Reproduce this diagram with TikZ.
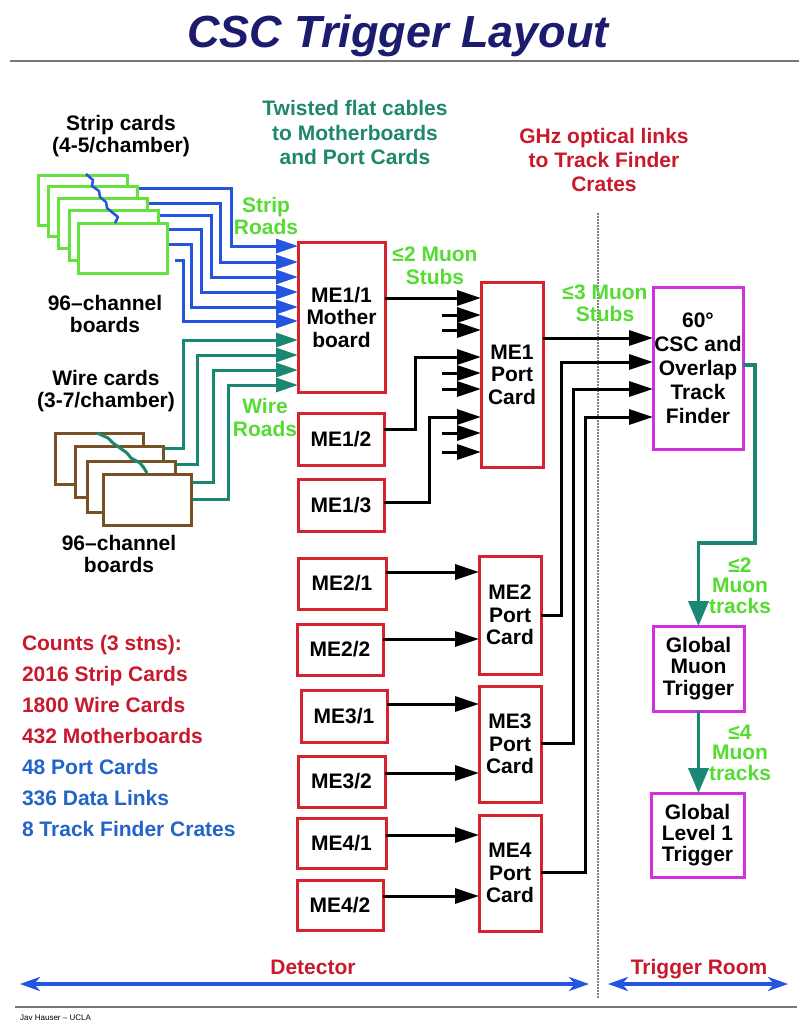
\documentclass[tikz,border=0pt]{standalone}
\usepackage{fontspec}
\setmainfont{Liberation Sans}
\usetikzlibrary{arrows.meta}
\definecolor{stripgreen}{RGB}{100,225,60}
\definecolor{cableblue}{RGB}{35,85,225}
\definecolor{wireteal}{RGB}{25,135,115}
\definecolor{cardbrown}{RGB}{120,82,38}
\definecolor{boxred}{RGB}{215,35,45}
\definecolor{boxmag}{RGB}{210,50,220}
\definecolor{lblgreen}{RGB}{85,220,50}
\definecolor{txtred}{RGB}{200,25,45}
\definecolor{txtblue}{RGB}{35,100,200}
\definecolor{titlenavy}{RGB}{28,28,110}
\definecolor{txtteal}{RGB}{30,135,110}
\definecolor{rulegray}{RGB}{120,120,120}
\begin{document}
\begin{tikzpicture}[x=1pt,y=-1pt,
 base/.style={font=\bfseries\fontsize{21}{22.5}\selectfont, inner sep=0pt, outer sep=0pt, align=center},
 redbox/.style={base, draw=boxred, line width=3pt, fill=white},
 magbox/.style={base, draw=boxmag, line width=3pt, fill=white},
 scard/.style={draw=stripgreen, line width=3pt, fill=white, minimum width=89pt, minimum height=50pt, inner sep=0pt},
 wcard/.style={draw=cardbrown, line width=3pt, fill=white, minimum width=88pt, minimum height=51pt, inner sep=0pt},
 bcable/.style={cableblue, line width=3pt, -{Triangle[length=22pt,width=14pt]}},
 wcable/.style={wireteal, line width=3pt, -{Triangle[length=22pt,width=14pt]}},
 blk/.style={black, line width=3pt, -{Triangle[length=24pt,width=15pt]}},
 tealarrow/.style={wireteal, line width=3.5pt, -{Triangle[length=25pt,width=20pt]}},
 spanarrow/.style={cableblue, line width=3.5pt, {Stealth[length=20pt,width=14pt,inset=6pt]}-{Stealth[length=20pt,width=14pt,inset=6pt]}},
 lbl/.style={base, text=lblgreen}
]
\fill[white] (0,0) rectangle (799,1020);
\useasboundingbox (0,0) rectangle (799,1020);

% title and rules
\node[base, font=\bfseries\itshape\fontsize{45}{46}\selectfont, text=titlenavy, anchor=base] (title) at (398,47) {CSC Trigger Layout};
\draw[rulegray, line width=2pt] (10,61) -- (799,61);
\draw[rulegray, line width=2pt] (15,1007) -- (797,1007);
\node[font=\fontsize{8}{8}\selectfont, inner sep=0pt, anchor=base west] (foot) at (20,1020) {Jay Hauser -- UCLA};

% dotted boundary
\draw[gray, line width=1.5pt, dash pattern=on 1.5pt off 1.5pt] (598,213) -- (598,998);

% strip cards
\node[scard] (sc1) at (82.5,200) {};
\node[scard] (sc2) at (92.5,211.5) {};
\node[scard] (sc3) at (103,223.5) {};
\node[scard] (sc4) at (113.5,235.5) {};
\node[scard] (sc5) at (123,248.5) {};
\draw[cableblue, line width=2.5pt, line join=round] (86,174) -- (93,180) -- (92,186) -- (99,191) -- (100,197) -- (106,202) -- (107,208) -- (113,213) -- (118,217) -- (115,223);

% wire cards
\node[wcard] (wc1) at (99,459) {};
\node[wcard] (wc2) at (119,472) {};
\node[wcard] (wc3) at (131,487) {};
\node[wcard] (wc4) at (147.5,499.5) {};
\draw[wireteal, line width=3pt, line join=round] (97,433) -- (108,438) -- (113,443) -- (120,448) -- (127,453) -- (131,458) -- (140,463) -- (144,468) -- (147,473);

% labels left
\node[base] (stripl) at (121,136) {Strip cards\\(4-5/chamber)};
\node[base] (stripb) at (105,314) {96--channel\\boards};
\node[base] (wirel) at (106,391) {Wire cards\\(3-7/chamber)};
\node[base] (wireb) at (119,554) {96--channel\\boards};
\node[base, text=txtteal, font=\bfseries\fontsize{21}{24.5}\selectfont] (twist) at (355,132.5) {Twisted flat cables\\to Motherboards\\and Port Cards};
\node[base, text=txtred, font=\bfseries\fontsize{21}{24}\selectfont] (ghz) at (604,160) {GHz optical links\\to Track Finder\\Crates};
\node[lbl] (sroads) at (266,216) {Strip\\Roads};
\node[lbl] (wroads) at (265,417.5) {Wire\\Roads};
\node[lbl] (stub2) at (435,266) {≤2 Muon\\Stubs};
\node[lbl] (stub3) at (605,303.5) {≤3 Muon\\Stubs};
\node[lbl, font=\bfseries\fontsize{21}{20.5}\selectfont] (trk2) at (740,585.5) {≤2\\Muon\\tracks};
\node[lbl, font=\bfseries\fontsize{21}{20.5}\selectfont] (trk4) at (740,752.5) {≤4\\Muon\\tracks};

\node[base, align=left, anchor=west, font=\bfseries\fontsize{21}{31}\selectfont] (counts) at (22,735.5) {%
\textcolor{txtred}{Counts (3 stns):}\\
\textcolor{txtred}{2016 Strip Cards}\\
\textcolor{txtred}{1800 Wire Cards}\\
\textcolor{txtred}{432 Motherboards}\\
\textcolor{txtblue}{48 Port Cards}\\
\textcolor{txtblue}{336 Data Links}\\
\textcolor{txtblue}{8 Track Finder Crates}};

% boxes
\node[redbox, minimum width=87pt, minimum height=150pt] (me11) at (341.5,317) {ME1/1\\Mother\\board};
\node[redbox, minimum width=86pt, minimum height=52pt] (me12) at (341,439) {ME1/2};
\node[redbox, minimum width=86pt, minimum height=52pt] (me13) at (341,505) {ME1/3};
\node[redbox, minimum width=62pt, minimum height=185pt] (pc1) at (512,374.5) {ME1\\Port\\Card};
\node[redbox, minimum width=88pt, minimum height=51pt] (me21) at (342,583.5) {ME2/1};
\node[redbox, minimum width=86pt, minimum height=51pt] (me22) at (340,649.5) {ME2/2};
\node[redbox, minimum width=86pt, minimum height=52pt] (me31) at (344,716) {ME3/1};
\node[redbox, minimum width=87pt, minimum height=51pt] (me32) at (341.5,781.5) {ME3/2};
\node[redbox, minimum width=89pt, minimum height=50pt] (me41) at (341.5,843) {ME4/1};
\node[redbox, minimum width=86pt, minimum height=50pt] (me42) at (340,905) {ME4/2};
\node[redbox, minimum width=62pt, minimum height=118pt] (pc2) at (510,615) {ME2\\Port\\Card};
\node[redbox, minimum width=62pt, minimum height=116pt] (pc3) at (510,744) {ME3\\Port\\Card};
\node[redbox, minimum width=62pt, minimum height=116pt] (pc4) at (510,873) {ME4\\Port\\Card};
\node[magbox, minimum width=90pt, minimum height=162pt, font=\bfseries\fontsize{21}{24}\selectfont] (tf) at (698,368) {60°\\CSC and\\Overlap\\Track\\Finder};
\node[magbox, minimum width=91pt, minimum height=85pt, font=\bfseries\fontsize{21}{21.5}\selectfont] (gmt) at (698.5,668.5) {Global\\Muon\\Trigger};
\node[magbox, minimum width=93pt, minimum height=84pt, font=\bfseries\fontsize{21}{21}\selectfont] (gl1) at (697.5,835) {Global\\Level 1\\Trigger};

% strip cables
\draw[bcable] (sc2.east |- 0,188) -| (231,246) -- (me11.west |- 0,246);
\draw[bcable] (sc3.east |- 0,203) -| (220,262) -- (me11.west |- 0,262);
\draw[bcable] (sc4.east |- 0,215) -| (211,277) -- (me11.west |- 0,277);
\draw[bcable] (sc5.east |- 0,229) -| (201,292) -- (me11.west |- 0,292);
\draw[bcable] (sc5.east |- 0,244) -| (191,307) -- (me11.west |- 0,307);
\coordinate (s6) at (175,260);
\draw[bcable] (s6) -| (183,321) -- (me11.west |- 0,321);

% wire cables
\draw[wcable] (wc2.east |- 0,448) -| (183,340) -- (me11.west |- 0,340);
\draw[wcable] (wc3.east |- 0,464) -| (197,355) -- (me11.west |- 0,355);
\draw[wcable] (wc4.east |- 0,482) -| (213,370) -- (me11.west |- 0,370);
\draw[wcable] (wc4.east |- 0,499) -| (228,385) -- (me11.west |- 0,385);

% ME1 port card inputs
\draw[blk] (me11.east |- 0,298) -- (pc1.west |- 0,298);
\draw[blk] (me12.east |- 0,429) -| (415,357) -- (pc1.west |- 0,357);
\draw[blk] (me13.east |- 0,502) -| (429,417) -- (pc1.west |- 0,417);
\foreach \yy/\nm in {315/a,330/b,373/c,389/d,433/e,452/f}{
  \coordinate (stub\nm) at (442,\yy);
  \draw[blk] (stub\nm) -- (pc1.west |- stub\nm);
}

% ME2-4 inputs
\draw[blk] (me21.east |- 0,572) -- (pc2.west |- 0,572);
\draw[blk] (me22.east |- 0,639) -- (pc2.west |- 0,639);
\draw[blk] (me31.east |- 0,704) -- (pc3.west |- 0,704);
\draw[blk] (me32.east |- 0,773) -- (pc3.west |- 0,773);
\draw[blk] (me41.east |- 0,835) -- (pc4.west |- 0,835);
\draw[blk] (me42.east |- 0,896) -- (pc4.west |- 0,896);

% links to track finder
\draw[blk] (pc1.east |- 0,338) -- (tf.west |- 0,338);
\draw[blk] (pc2.east |- 0,615) -| (561,362) -- (tf.west |- 0,362);
\draw[blk] (pc3.east |- 0,743) -| (573,389) -- (tf.west |- 0,389);
\draw[blk] (pc4.east |- 0,872) -| (585,417) -- (tf.west |- 0,417);

% track finder to global
\draw[tealarrow] (tf.east |- 0,365) -| (755,543) -| (gmt.north);
\draw[tealarrow] (gmt.south) -- (gmt.south |- gl1.north);

% bottom spans
\coordinate (dL) at (20,984);
\coordinate (dR) at (589,984);
\coordinate (tL) at (608,984);
\coordinate (tR) at (788,984);
\draw[spanarrow] (dL) -- (dR);
\draw[spanarrow] (tL) -- (tR);
\node[base, text=txtred, anchor=base] (det) at (313,974) {Detector};
\node[base, text=txtred, anchor=base] (trm) at (699,974) {Trigger Room};
\end{tikzpicture}
\end{document}
